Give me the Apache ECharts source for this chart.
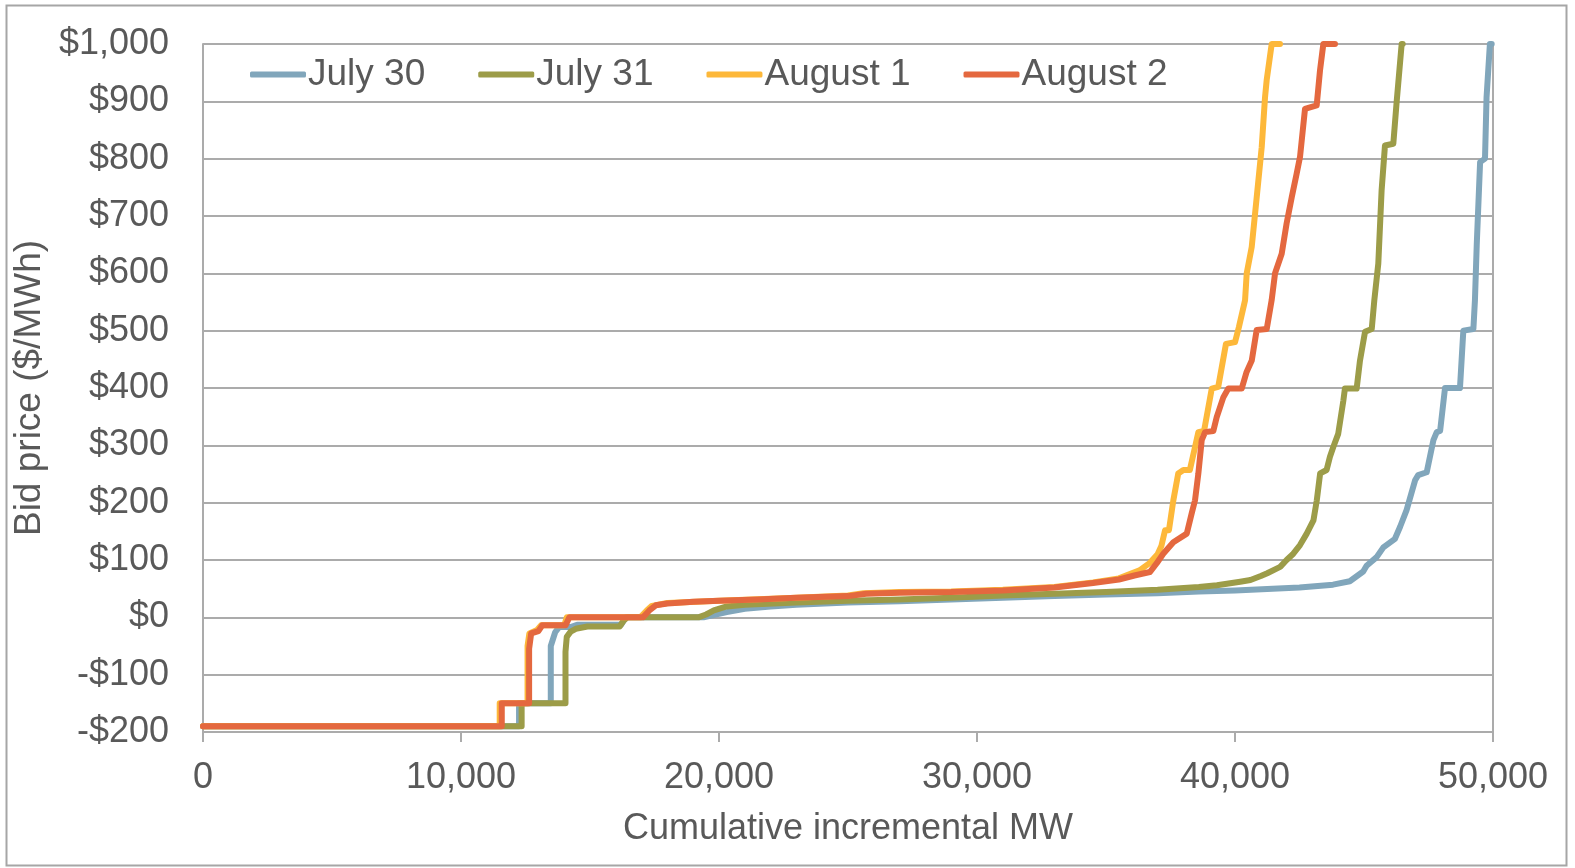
<!DOCTYPE html>
<html>
<head>
<meta charset="utf-8">
<title>Bid curves</title>
<script src="https://cdn.jsdelivr.net/npm/echarts@6/dist/echarts.min.js"></script>
<style>
  html, body { margin: 0; padding: 0; background: #fff; }
  #chart { width: 1575px; height: 868px; }
</style>
</head>
<body>
<div id="chart"></div>
<script>
// [cumulative MW, bid price $/MWh]
const seriesNames = ['July 30', 'July 31', 'August 1', 'August 2'];
const colors = ['#81a6bb', '#9c9c48', '#fdb83a', '#e4683f'];

const july30 = [
  [0, -190], [12250, -190], [12250, -150], [13480, -150], [13480, -50], [13650, -26],
  [13800, -17], [14250, -17], [14500, -13], [16200, -13], [16300, -6], [16400, 0],
  [19400, 0], [19700, 3], [20300, 9], [21000, 15], [22000, 19], [23000, 22],
  [25000, 26], [27000, 28], [29000, 31], [31000, 34], [33000, 37], [35000, 40],
  [37000, 42], [38600, 45], [40000, 47], [42500, 52], [43800, 57], [44450, 63],
  [44970, 80], [45100, 90], [45490, 105], [45750, 122], [46200, 137], [46400, 158],
  [46650, 187], [46980, 239], [47100, 248], [47430, 253], [47690, 309], [47820, 323],
  [47950, 325], [48140, 400], [48720, 400], [48850, 500], [49240, 503], [49300, 553],
  [49370, 650], [49500, 794], [49690, 800], [49750, 907], [49880, 1000], [49950, 1000]
];

const july31 = [
  [0, -190], [12350, -190], [12350, -150], [14050, -150], [14050, -60], [14100, -34],
  [14250, -25], [14450, -20], [14900, -16], [16150, -16], [16300, -6], [16450, 0],
  [19200, 0], [19500, 5], [19800, 12], [20300, 19], [21000, 22], [23000, 26],
  [25000, 29], [27000, 31], [29000, 34], [31000, 38], [33000, 41], [35000, 44],
  [37000, 48], [38600, 53], [39300, 56], [40200, 62], [40600, 65], [41000, 72],
  [41250, 77], [41750, 88], [42000, 100], [42260, 111], [42520, 126], [42780, 146],
  [43040, 169], [43170, 204], [43300, 251], [43550, 257], [43680, 280], [43810, 297],
  [44000, 320], [44200, 378], [44260, 399], [44715, 399], [44845, 448], [45040, 498],
  [45300, 503], [45400, 553], [45554, 617], [45683, 745], [45813, 823], [46136, 826],
  [46265, 899], [46460, 1000], [46500, 1000]
];

const august1 = [
  [0, -190], [11500, -190], [11500, -150], [12580, -150], [12580, -50], [12650, -28],
  [12950, -22], [13100, -14], [14000, -14], [14100, 0], [16950, 0], [17200, 12],
  [17400, 20], [18000, 25], [20000, 29], [23000, 34], [25000, 38], [25600, 42],
  [27000, 44], [29000, 45], [31000, 48], [33000, 53], [34500, 61], [35500, 68],
  [36300, 82], [36700, 95], [37000, 110], [37150, 125], [37290, 152], [37440, 152],
  [37610, 204], [37800, 251], [38000, 257], [38250, 257], [38450, 297], [38580, 323],
  [38800, 325], [39100, 399], [39350, 402], [39650, 477], [40000, 480], [40150, 506],
  [40390, 553], [40454, 600], [40648, 646], [40842, 733], [41035, 820], [41164, 907],
  [41228, 937], [41422, 1000], [41745, 1000]
];

const august2 = [
  [0, -190], [11580, -190], [11580, -150], [12640, -150], [12640, -55], [12720, -28],
  [13000, -24], [13150, -14], [14050, -14], [14200, 0], [17050, 0], [17300, 12],
  [17550, 21], [18000, 24], [19000, 27], [20000, 29], [21500, 31], [23000, 34],
  [25000, 37], [25700, 41], [27000, 43], [29000, 44], [31000, 47], [33000, 52],
  [34500, 60], [35500, 66], [36100, 73], [36700, 79], [36960, 94], [37220, 111],
  [37610, 131], [38130, 146], [38320, 181], [38450, 204], [38580, 251], [38710, 309],
  [38840, 323], [39160, 325], [39290, 349], [39550, 384], [39740, 399], [40260, 399],
  [40450, 428], [40650, 448], [40840, 501], [41230, 503], [41420, 553], [41552, 600],
  [41810, 634], [42000, 687], [42200, 733], [42390, 774], [42520, 803], [42714, 887],
  [43166, 893], [43295, 954], [43424, 1000], [43876, 1000]
];

const seriesData = [july30, july31, august1, august2];

const xMin = 0, xMax = 50000, xStep = 10000;
const yMin = -200, yMax = 1000, yStep = 100;

const textColor = '#595959';
const lineColor = '#ababab';
const font = "'Liberation Sans', Arial, sans-serif";

const chart = echarts.init(document.getElementById('chart'));

function priceLabel(v) {
  const s = '$' + Math.abs(v).toLocaleString('en-US');
  return v < 0 ? '-' + s : s;
}

const option = {
  animation: false,
  backgroundColor: '#fff',
  color: colors,
  textStyle: { fontFamily: font, color: textColor },
  grid: {
    left: 203,
    right: 82,
    top: 44,
    bottom: 136,
    containLabel: false,
    outerBoundsMode: 'none',
  },
  graphic: [
    {
      type: 'rect',
      shape: { x: 6.5, y: 5.5, width: 1560, height: 860 },
      style: { fill: 'none', stroke: '#a6a6a6', lineWidth: 2 },
      silent: true,
    },
  ],
  legend: {
    left: 245,
    top: 51,
    itemGap: 53,
    itemWidth: 56,
    itemHeight: 6,
    icon: 'roundRect',
    data: seriesNames,
    textStyle: { fontSize: 37, color: textColor, fontFamily: font, padding: [0, 0, 0, -3] },
  },
  xAxis: {
    type: 'value',
    min: xMin,
    max: xMax,
    interval: xStep,
    name: 'Cumulative incremental MW',
    nameLocation: 'middle',
    nameGap: 79,
    nameTextStyle: { fontSize: 36, color: textColor, fontFamily: font },
    axisLine: { show: true, onZero: false, lineStyle: { color: lineColor, width: 2 } },
    axisTick: { show: true, length: 10, lineStyle: { color: lineColor, width: 2 } },
    axisLabel: {
      fontSize: 36,
      color: textColor,
      margin: 28,
      formatter: (v) => v.toLocaleString('en-US'),
    },
    splitLine: { show: false },
  },
  yAxis: [
    {
      type: 'value',
      min: yMin,
      max: yMax,
      interval: yStep,
      name: 'Bid price ($/MWh)',
      nameLocation: 'middle',
      nameGap: 125,
      nameTextStyle: { fontSize: 37, color: textColor, fontFamily: font },
      axisLine: { show: true, lineStyle: { color: lineColor, width: 2 } },
      axisTick: { show: false },
      axisLabel: { fontSize: 36, color: textColor, margin: 34, formatter: priceLabel },
      splitLine: { show: true, lineStyle: { color: lineColor, width: 2 } },
    },
    {
      type: 'value',
      min: yMin,
      max: yMax,
      interval: yStep,
      position: 'right',
      axisLine: { show: true, lineStyle: { color: lineColor, width: 2 } },
      axisTick: { show: false },
      axisLabel: { show: false },
      splitLine: { show: false },
    },
  ],
  series: seriesNames.map((name, i) => ({
    name: name,
    type: 'line',
    data: seriesData[i],
    showSymbol: false,
    symbol: 'none',
    lineStyle: { width: 6, color: colors[i], join: 'round', cap: 'round' },
    itemStyle: { color: colors[i] },
    z: 2 + i,
  })),
};

chart.setOption(option);
</script>
</body>
</html>
